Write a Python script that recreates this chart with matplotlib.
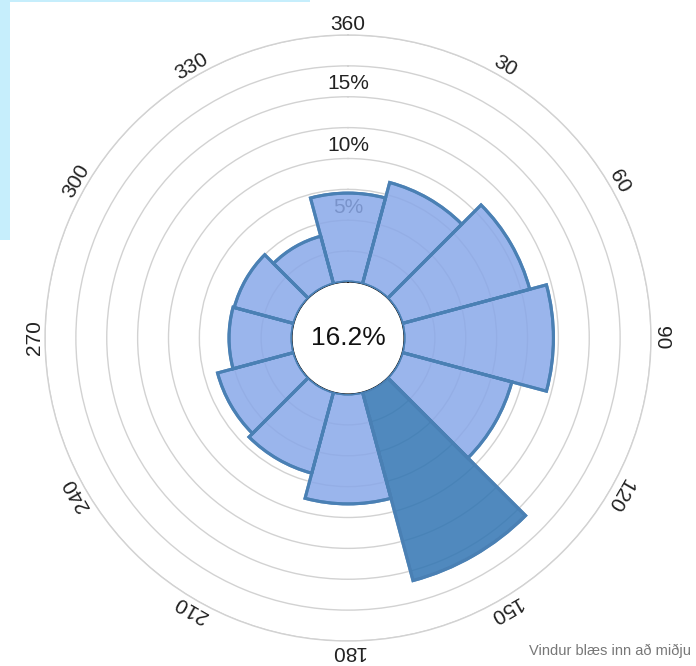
import numpy as np
import matplotlib
matplotlib.use('Agg')
import matplotlib.pyplot as plt
from matplotlib.patches import Rectangle

plt.rcParams['font.family'] = ['Liberation Sans', 'DejaVu Sans']

# wind direction sectors (degrees) and share of time (%)
directions = [0, 30, 60, 90, 120, 150, 180, 210, 240, 270, 300, 330]
dir_labels = ['360', '30', '60', '90', '120', '150', '180', '210', '240', '270', '300', '330']
shares = [7.2, 8.5, 10.7, 12.1, 9.2, 15.8, 8.9, 6.8, 6.4, 5.1, 5.0, 4.0]
calm = 16.2
ring_labels = ['5%', '10%', '15%']
ring_values = [5, 10, 15]

W, H = 696, 666
fig = plt.figure(figsize=(W / 100, H / 100), dpi=100)

# axes placement: centre (348, 338) px, outer radius 303 px
cx, cy, R = 348, 338, 303
ax = fig.add_axes([(cx - R) / W, (H - cy - R) / H, 2 * R / W, 2 * R / H], projection='polar')
ax.set_theta_zero_location('N')
ax.set_theta_direction(-1)
ax.set_ylim(0, 20)
ax.set_rorigin(-20 * 56 / (R - 56))

light = (137 / 255, 168 / 255, 233 / 255)
dark = (49 / 255, 117 / 255, 179 / 255)
edge = '#4a80b4'
colors = [dark if s == max(shares) else light for s in shares]

theta = np.deg2rad(directions)
ax.set_axisbelow(True)
ax.bar(theta, shares, width=np.deg2rad(30), bottom=0, color=colors, alpha=0.85,
       edgecolor=edge, linewidth=2.2, zorder=3)
# crisp edges on top
ax.bar(theta, shares, width=np.deg2rad(30), bottom=0, fill=False,
       edgecolor=edge, linewidth=2.2, zorder=4)

ax.set_xticks(theta)
ax.set_xticklabels([])
ax.set_yticks(np.arange(0, 20.1, 2.5))
ax.set_yticklabels([])
ax.xaxis.grid(False)
ax.yaxis.grid(True, color='#d2d2d2', linewidth=1)
ax.spines['polar'].set_color('#d2d2d2')
ax.spines['polar'].set_linewidth(1)
ax.tick_params(length=0)

for t, lab, d in zip(theta, dir_labels, directions):
    ax.text(t, 20.85, lab, rotation=-d, rotation_mode='anchor', ha='center', va='center',
            fontsize=15, color='#222222', clip_on=False)

for v, lab in zip(ring_values, ring_labels):
    ax.text(0, v + 1.05, lab, ha='center', va='center', fontsize=15, color='#222222', zorder=2)

ax.text(0, ax.get_rorigin(), f'{calm}%', ha='center', va='center', fontsize=19,
        color='#111111', zorder=5)

fig.text(0.993, 0.012, 'Vindur blæs inn að miðju', ha='right', va='bottom',
         fontsize=10.5, color='#777777')

# light blue frame in top-left corner
fig.add_artist(Rectangle((0, (H - 240) / H), 10 / W, 240 / H, transform=fig.transFigure,
                         color='#c6eefc', lw=0))
fig.add_artist(Rectangle((0, (H - 1.5) / H), 310 / W, 1.5 / H, transform=fig.transFigure,
                         color='#c6eefc', lw=0))

fig.savefig('out.png', dpi=100)
